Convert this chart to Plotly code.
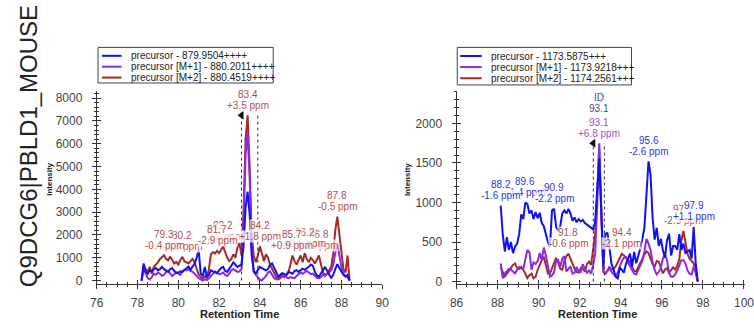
import numpy as np
import plotly.graph_objects as go

W, H = 754, 328
FONT = "Arial, Liberation Sans, sans-serif"

# ---------------- data: left panel (879.95, 4+) ----------------
left_start, left_step = 78.2, 0.1
left_blue = [
    0, 750, 400, 300, 450, 400, 500, 550,
    450, 500, 600, 500, 450, 380, 500, 550, 420, 330,
    350, 400, 380, 450, 550, 620, 480, 600, 750, 1000,
    1350, 300, 200, 600, 150, 250, 450, 400, 350, 320,
    450, 550, 600, 420, 380, 500, 650, 800, 700, 600,
    650, 700, 1500, 3200, 3900, 2900, 1100, 400, 320, 450,
    600, 550, 480, 450, 500, 700, 750, 550, 320, 180,
    250, 320, 280, 240, 380, 350, 300, 420, 460, 380,
    450, 520, 470, 520, 600, 700, 650, 380, 220, 180,
    300, 450, 600, 400, 250, 120, 250, 500, 720, 550,
    380, 250, 180, 250, 0,
]
left_purple = [
    0, 500, 300, 100, 50, 150, 300, 250,
    350, 300, 200, 250, 380, 420, 300, 200, 280, 350,
    300, 250, 400, 480, 450, 500, 420, 380, 300, 200,
    100, 50, 0, 50, 20, 100, 200, 300, 400, 350,
    280, 300, 350, 250, 200, 300, 450, 500, 420, 380,
    400, 500, 2500, 5500, 6450, 4500, 1500, 400, 250, 150,
    50, 0, 100, 200, 350, 400, 250, 100, 50, 100,
    200, 300, 250, 150, 100, 150, 120, 100, 200, 280,
    350, 300, 380, 420, 350, 280, 300, 200, 120, 100,
    150, 250, 200, 300, 350, 450, 700, 1200, 1600, 1100,
    600, 300, 200, 150, 0,
]
left_red = [
    0, 650, 500, 400, 600, 300, 600, 700,
    800, 950, 1050, 1110, 950, 880, 1050, 900, 750, 820,
    700, 900, 1040, 850, 800, 750, 850, 950, 800, 500,
    250, 150, 80, 200, 100, 500, 1150, 1250, 1180, 1300,
    1200, 1350, 1500, 1250, 1000, 850, 950, 1150, 1000, 1450,
    1650, 1100, 3000, 6200, 7250, 5000, 2000, 1100, 800, 1100,
    1500, 1200, 850, 1150, 1000, 700, 500, 300, 150, 50,
    100, 200, 150, 250, 350, 700, 1100, 850, 700, 900,
    1100, 800, 1200, 950, 800, 1000, 900, 750, 950, 1100,
    700, 350, 250, 300, 450, 600, 1200, 2200, 2800, 2000,
    1100, 500, 350, 1100, 0,
]
left_time = np.round(left_start + left_step * np.arange(len(left_blue)), 2)

# ---------------- data: right panel (1173.59, 3+) ----------------
right_start, right_step = 88.15, 0.1
right_blue = [
    960, 600, 380, 560, 400, 500, 360, 440, 480, 600,
    850, 790, 1000, 980, 860, 900, 790, 880, 800, 870,
    740, 700, 600, 500, 440, 900, 920, 690, 650, 700,
    860, 900, 860, 920, 860, 770, 810, 750, 790, 760,
    780, 740, 720, 700, 690, 660, 750, 1100, 1560, 900,
    190, 600, 620, 420, 220, 150, 60, 40, 170, 150,
    110, 220, 300, 354, 190, 375, 230, 320, 420, 540,
    680, 1100, 1520, 1350, 800, 530, 680, 450, 540, 400,
    300, 521, 604, 330, 450, 450, 400, 600, 400, 480,
    360, 380, 400, 290, 690, 230, 0,
]
right_purple = [
    230, 40, 100, 125, 160, 150, 120, 104, 150, 185,
    165, 160, 280, 400, 370, 150, 240, 220, 260, 360,
    271, 430, 330, 200, 60, 80, 120, 260, 270, 187,
    290, 320, 130, 160, 190, 100, 110, 187, 120, 120,
    220, 160, 110, 140, 100, 200, 350, 950, 1750, 900,
    140, 90, 140, 190, 120, 90, 62, 110, 180, 260,
    300, 310, 240, 190, 146, 100, 90, 140, 190, 260,
    380, 540, 480, 400, 240, 146, 90, 120, 170, 290,
    340, 270, 110, 60, 60, 90, 140, 200, 270, 270,
    230, 140, 100, 90, 190, 100, 0,
]
right_red = [
    180, 110, 65, 100, 135, 175, 210, 229, 170, 160,
    187, 150, 100, 45, 80, 100, 40, 60, 146, 220,
    270, 313, 200, 100, 100, 167, 250, 300, 240, 160,
    150, 260, 320, 354, 290, 220, 160, 120, 110, 170,
    160, 125, 220, 250, 210, 396, 600, 1100, 1700, 850,
    120, 105, 140, 165, 150, 160, 190, 250, 310, 350,
    330, 310, 280, 240, 185, 130, 130, 185, 230, 285,
    340, 380, 360, 290, 220, 190, 260, 250, 180, 104,
    150, 170, 110, 150, 180, 150, 200, 280, 520, 640,
    500, 350, 290, 260, 230, 130, 0,
]
right_time = np.round(right_start + right_step * np.arange(len(right_blue)), 2)

left_names = ["precursor - 879.9504++++", "precursor [M+1] - 880.2011++++",
              "precursor [M+2] - 880.4519++++"]
right_names = ["precursor - 1173.5875+++", "precursor [M+1] - 1173.9218+++",
               "precursor [M+2] - 1174.2561+++"]

# peak labels: (retention time, mass error, series)
left_labels = [("80.2", "-1.3 ppm", "red"), ("79.3", "-0.4 ppm", "red"),
               ("82.2", "-2.2 ppm", "red"), ("81.7", "-2.9 ppm", "red"),
               ("84.2", "+1.8 ppm", "red"), ("86.8", "-1.0 ppm", "red"),
               ("86.2", "+0.6 ppm", "red"), ("85.7", "+0.9 ppm", "red"),
               ("87.8", "-0.5 ppm", "red"), ("83.4", "+3.5 ppm", "red")]
right_labels = [("89.6", "-1.4 ppm", "blue"), ("88.2", "-1.6 ppm", "blue"),
                ("90.9", "-2.2 ppm", "blue"), ("91.8", "-0.6 ppm", "red"),
                ("94.4", "-2.1 ppm", "red"), ("95.6", "-2.6 ppm", "blue"),
                ("97.1", "-2.3 ppm", "red"), ("97.9", "+1.1 ppm", "blue"),
                ("93.1", "+6.8 ppm", "purple")]
right_id_rt = "93.1"

left_bounds = [83.1, 83.9]
right_bounds = [92.66, 93.2]

# ---------------- styling ----------------
line_colors = {"blue": "#1010f0", "purple": "#8a2be2", "red": "#a52a2a"}
label_colors = {"blue": "#3434d8", "purple": "#a050e0", "red": "#b2504c"}
ID_COLOR = "#3c5090"


def px(x):
    return x / W


def py(y):
    return 1 - y / H


fig = go.Figure()

panels = [
    dict(x="x", y="y", t=left_time,
         s={"blue": left_blue, "purple": left_purple, "red": left_red},
         labels=left_labels, bounds=left_bounds, names=left_names),
    dict(x="x2", y="y2", t=right_time,
         s={"blue": right_blue, "purple": right_purple, "red": right_red},
         labels=right_labels, bounds=right_bounds, names=right_names),
]

for p in panels:
    for key in ["red", "purple", "blue"]:
        fig.add_trace(go.Scatter(x=p["t"], y=p["s"][key], mode="lines",
                                 line=dict(color=line_colors[key], width=2),
                                 xaxis=p["x"], yaxis=p["y"], showlegend=False,
                                 hoverinfo="skip"))
    top = max(max(v) for v in p["s"].values())
    b0, b1 = p["bounds"]
    fig.add_trace(go.Scatter(x=[b0, b0, None, b1, b1], y=[0, top, None, 0, top],
                             mode="lines", line=dict(color="#333", width=1, dash="dot"),
                             xaxis=p["x"], yaxis=p["y"], showlegend=False, hoverinfo="skip"))
    fig.add_trace(go.Scatter(x=[b0], y=[top], mode="markers",
                             marker=dict(symbol="triangle-left", size=8, color="#111"),
                             xaxis=p["x"], yaxis=p["y"], showlegend=False, hoverinfo="skip"))

    t = np.asarray(p["t"])
    for rt, ppm, key in p["labels"]:
        s = np.asarray(p["s"][key])
        mask = np.abs(t - float(rt)) <= 0.36
        idx = np.where(mask)[0][np.argmax(s[mask])]
        xa, ya = t[idx], s[idx]
        common = dict(x=xa, y=ya, xref=p["x"], yref=p["y"], showarrow=False,
                      yanchor="middle", xanchor="center", borderpad=0,
                      bgcolor="rgba(255,255,255,0.72)")
        fig.add_annotation(text=ppm, yshift=10,
                           font=dict(family=FONT, size=10, color=label_colors[key]), **common)
        fig.add_annotation(text=rt, yshift=21,
                           font=dict(family=FONT, size=10, color=label_colors[key]), **common)
        if p["x"] == "x2" and rt == right_id_rt:
            fig.add_annotation(text=rt, yshift=35,
                               font=dict(family=FONT, size=10, color=ID_COLOR), **common)
            fig.add_annotation(text="ID", yshift=46,
                               font=dict(family=FONT, size=10, color=ID_COLOR), **common)

# inner tick overlays (empty) to create crossing ticks
for xa, ya in [("x3", "y3"), ("x4", "y4")]:
    fig.add_trace(go.Scatter(x=[], y=[], xaxis=xa, yaxis=ya, showlegend=False))

ydom = [py(288), py(92)]
lx = [px(91.7), px(383.3)]
rx = [px(459.3), 1.0]
lxr = [76, 90]
rxr = [86, 100.05]
lyr = [-173, 8319]
ryr = [-37.5, 2412]

base = dict(showgrid=False, zeroline=False, showline=True, linecolor="#333",
            linewidth=1, ticks="outside", ticklen=4, tickwidth=1, tickcolor="#333",
            ticklabelstandoff=7, ticklabeloverflow="allow",
            tickfont=dict(family=FONT, size=12, color="#444"))
inner = dict(showgrid=False, zeroline=False, showline=False, showticklabels=False,
             ticks="inside", ticklen=4, tickwidth=1, tickcolor="#333")

fig.update_layout(
    width=W, height=H, autosize=False,
    margin=dict(l=0, r=0, t=0, b=0),
    paper_bgcolor="white", plot_bgcolor="rgba(0,0,0,0)",
    xaxis=dict(domain=lx, range=lxr, anchor="y", tick0=76, dtick=2,
               minor=dict(dtick=0.5, ticks="outside", ticklen=2, tickcolor="#333"),
               **{**base, "ticklabelstandoff": 3}),
    yaxis=dict(domain=ydom, range=lyr, anchor="x", tick0=0, dtick=1000,
               minor=dict(dtick=200, ticks="outside", ticklen=2, tickcolor="#333"),
               **base),
    xaxis2=dict(domain=rx, range=rxr, anchor="y2", tick0=86, dtick=2,
                minor=dict(dtick=0.5, ticks="outside", ticklen=2, tickcolor="#333"),
                **{**base, "ticklabelstandoff": 3}),
    yaxis2=dict(domain=ydom, range=ryr, anchor="x2", tick0=0, dtick=500,
                minor=dict(dtick=100, ticks="outside", ticklen=2, tickcolor="#333"),
                **base),
    xaxis3=dict(domain=lx, range=lxr, anchor="y3", tick0=76, dtick=2,
                minor=dict(dtick=0.5, ticks="inside", ticklen=2, tickcolor="#333"), **inner),
    yaxis3=dict(domain=ydom, range=lyr, anchor="x3", tick0=0, dtick=1000,
                minor=dict(dtick=200, ticks="inside", ticklen=2, tickcolor="#333"), **inner),
    xaxis4=dict(domain=rx, range=rxr, anchor="y4", tick0=86, dtick=2,
                minor=dict(dtick=0.5, ticks="inside", ticklen=2, tickcolor="#333"), **inner),
    yaxis4=dict(domain=ydom, range=ryr, anchor="x4", tick0=0, dtick=500,
                minor=dict(dtick=100, ticks="inside", ticklen=2, tickcolor="#333"), **inner),
    showlegend=False,
)

# axis titles
for cx in [238, 603]:
    fig.add_annotation(text="<b>Retention Time</b>", x=px(cx), y=py(318), xref="paper",
                       yref="paper", showarrow=False, xanchor="center", yanchor="middle",
                       font=dict(family=FONT, size=11, color="#222"))
for cx in [44, 409]:
    fig.add_annotation(text="<b>Intensity</b>", x=px(cx), y=py(182), xref="paper",
                       yref="paper", showarrow=False, textangle=-90, xanchor="center",
                       yanchor="middle", font=dict(family=FONT, size=8, color="#222"))

# protein name
fig.add_annotation(text="Q9DCG6|PBLD1_MOUSE", x=px(22), y=py(148.5), xref="paper",
                   yref="paper", showarrow=False, textangle=-90, xanchor="center",
                   yanchor="middle", font=dict(family=FONT, size=24, color="#222"))

# legends (boxed, one per panel)
legend_boxes = [
    dict(box=(93, 48, 272, 84), line_x=(97, 117), text_x=125, rows=(56.5, 67.5, 78.5),
         names=left_names),
    dict(box=(460, 48, 638, 86), line_x=(463, 485), text_x=492, rows=(56.7, 67.9, 79.2),
         names=right_names),
]
for lg in legend_boxes:
    x0, y0, x1, y1 = lg["box"]
    fig.add_shape(type="rect", xref="paper", yref="paper", x0=px(x0), y0=py(y1),
                  x1=px(x1), y1=py(y0), line=dict(color="#444", width=1),
                  fillcolor="white")
    for key, name, ry in zip(["blue", "purple", "red"], lg["names"], lg["rows"]):
        fig.add_shape(type="line", xref="paper", yref="paper", x0=px(lg["line_x"][0]),
                      x1=px(lg["line_x"][1]), y0=py(ry), y1=py(ry),
                      line=dict(color=line_colors[key], width=2))
        fig.add_annotation(text=name, x=px(lg["text_x"]), y=py(ry), xref="paper",
                           yref="paper", showarrow=False, xanchor="left", yanchor="middle",
                           font=dict(family=FONT, size=10, color="#222"))

fig.write_html("out.html", config={"displayModeBar": False},
               post_script="document.body.style.margin='0px';")
